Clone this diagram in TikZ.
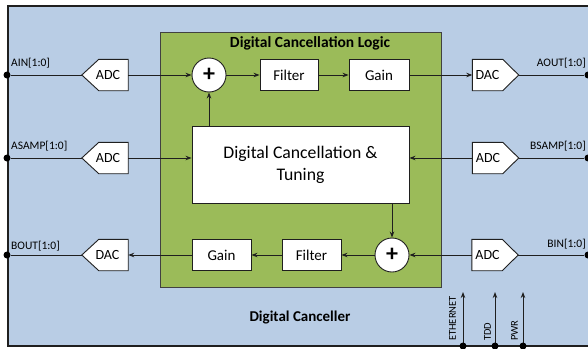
\documentclass[tikz,border=0pt]{standalone}
\usepackage{fontspec}
\setmainfont{Carlito}
\usetikzlibrary{calc,arrows.meta}
\definecolor{bgblue}{HTML}{B9CDE5}
\definecolor{lgreen}{HTML}{9BBB59}
\definecolor{ink}{HTML}{1F1F1F}
\pgfdeclarelayer{back}
\pgfdeclarelayer{mid}
\pgfsetlayers{back,mid,main}
\newcommand\pentL[2]{\draw[convshape] (#1.west) -- ($(#1.north west)+(#2,0)$) -- (#1.north east) -- (#1.south east) -- ($(#1.south west)+(#2,0)$) -- cycle;}
\newcommand\pentR[2]{\draw[convshape] (#1.east) -- ($(#1.north east)+(-#2,0)$) -- (#1.north west) -- (#1.south west) -- ($(#1.south east)+(-#2,0)$) -- cycle;}
\begin{document}
\begin{tikzpicture}[x=1pt,y=-1pt,
  conn/.style={draw=ink, line width=0.9pt},
  arr/.style={conn, -{Stealth[length=6pt,width=4.5pt]}},
  wbox/.style={draw=ink, line width=0.9pt, fill=white, minimum height=31pt, inner sep=0pt, font=\fontsize{15}{17}\selectfont},
  conv/.style={minimum width=46pt, minimum height=31pt, inner sep=0pt, font=\fontsize{14}{16}\selectfont},
  convshape/.style={draw=ink, line width=0.9pt, fill=white},
  sumnode/.style={circle, draw=ink, line width=0.9pt, fill=white, minimum size=34pt, inner sep=0pt, font=\bfseries\fontsize{24}{24}\selectfont},
  port/.style={circle, fill=black, minimum size=7pt, inner sep=0pt},
  plabel/.style={font=\fontsize{11.5}{13}\selectfont, inner sep=0pt},
  vlabel/.style={font=\fontsize{10.5}{12}\selectfont, inner sep=0pt, rotate=90, anchor=south west},
]
\useasboundingbox (0,0) rectangle (588,348);
\begin{pgfonlayer}{back}
\fill[white] (0,0) rectangle (588,348);
\node[draw=ink, fill=bgblue, line width=1.2pt, minimum width=584pt, minimum height=340pt, inner sep=0pt] (canceller) at (300,176) {};
\node[draw=ink!85, fill=lgreen, line width=0.9pt, minimum width=281pt, minimum height=255pt, inner sep=0pt] (logic) at (300.5,159.5) {};
\end{pgfonlayer}

\node[font=\bfseries\fontsize{15.5}{17}\selectfont] (logictitle) at (310,43) {Digital Cancellation Logic};
\node[font=\bfseries\fontsize{15}{17}\selectfont] (cantitle) at (300,318) {Digital Canceller};

% row 1
\node[port] (pAIN) at (7,75) {};
\node[conv] (adcA) at (105,75) {\hspace*{6pt}ADC};
\node[sumnode] (plus1) at (209,75) {\raisebox{1pt}{+}};
\node[wbox, minimum width=58pt] (filter1) at (289,75) {Filter};
\node[wbox, minimum width=60pt] (gain1) at (379,75) {Gain};
\node[conv] (dacA) at (495.5,75) {DAC\hspace*{16pt}};
\node[port] (pAOUT) at (588,75) {};

% row 2
\node[port] (pASAMP) at (7,158) {};
\node[conv] (adcB) at (105,158) {\hspace*{6pt}ADC};
\node[wbox, minimum width=217pt, minimum height=77pt, font=\fontsize{17.7}{22}\selectfont, align=center] (tune) at (300.5,164.5) {Digital Cancellation \&\\Tuning};
\node[conv] (adcC) at (495.5,158) {ADC\hspace*{15pt}};
\node[port] (pBSAMP) at (588,158) {};

% row 3
\node[port] (pBOUT) at (7,255) {};
\node[conv] (dacB) at (105,255) {\hspace*{5pt}DAC};
\node[wbox, minimum width=59pt] (gain2) at (221.5,255) {Gain};
\node[wbox, minimum width=59pt] (filter2) at (311.5,255) {Filter};
\node[sumnode] (plus2) at (392,255) {\raisebox{1pt}{+}};
\node[conv] (adcD) at (495,255) {ADC\hspace*{15pt}};
\node[port] (pBIN) at (588,255) {};

\begin{pgfonlayer}{mid}
\pentL{adcA}{17}
\pentL{adcB}{17}
\pentL{dacB}{17}
\pentR{dacA}{16}
\pentR{adcC}{16}
\pentR{adcD}{16}
\end{pgfonlayer}

% port labels
\node[plabel, anchor=west] (lAIN) at (11,63) {AIN[1:0]};
\node[plabel, anchor=west] (lASAMP) at (11,146) {ASAMP[1:0]};
\node[plabel, anchor=west] (lBOUT) at (11,246) {BOUT[1:0]};
\node[plabel, anchor=east] (lAOUT) at (586,63) {AOUT[1:0]};
\node[plabel, anchor=east] (lBSAMP) at (586,146) {BSAMP[1:0]};
\node[plabel, anchor=east] (lBIN) at (586,244) {BIN[1:0]};

% row 1 connectors
\draw[conn] (pAIN) -- (adcA.west);
\draw[arr] (adcA.east) -- (plus1.west);
\draw[arr] (plus1.east) -- (filter1.west);
\draw[arr] (filter1.east) -- (gain1.west);
\draw[arr] (gain1.east) -- (dacA.west);
\draw[conn] (dacA.east) -- (pAOUT);

% row 2 connectors
\draw[conn] (pASAMP) -- (adcB.west);
\draw[arr] (adcB.east) -- (adcB.east -| tune.west);
\draw[conn] (pBSAMP) -- (adcC.east);
\draw[arr] (adcC.west) -- (adcC.west -| tune.east);
\draw[arr] (plus1.south |- tune.north) -- (plus1.south);
\draw[arr] (plus2.north |- tune.south) -- (plus2.north);

% row 3 connectors
\draw[conn] (pBIN) -- (adcD.east);
\draw[arr] (adcD.west) -- (plus2.east);
\draw[arr] (plus2.west) -- (filter2.east);
\draw[arr] (filter2.west) -- (gain2.east);
\draw[arr] (gain2.west) -- (dacB.east);
\draw[conn] (dacB.west) -- (pBOUT);

% bottom control inputs
\coordinate (eth) at (463,346);
\coordinate (tdd) at (495,346);
\coordinate (pwr) at (523,346);
\coordinate (ethT) at (463,292);
\coordinate (tddT) at (495,292);
\coordinate (pwrT) at (523,292);
\draw[arr] (eth) -- (ethT);
\draw[arr] (tdd) -- (tddT);
\draw[arr] (pwr) -- (pwrT);
\node[port] (pETH) at (eth) {};
\node[port] (pTDD) at (tdd) {};
\node[port] (pPWR) at (pwr) {};
\node[vlabel] (lETH) at (456,341) {ETHERNET};
\node[vlabel] (lTDD) at (491,341) {TDD};
\node[vlabel] (lPWR) at (518,341) {PWR};
\end{tikzpicture}
\end{document}
